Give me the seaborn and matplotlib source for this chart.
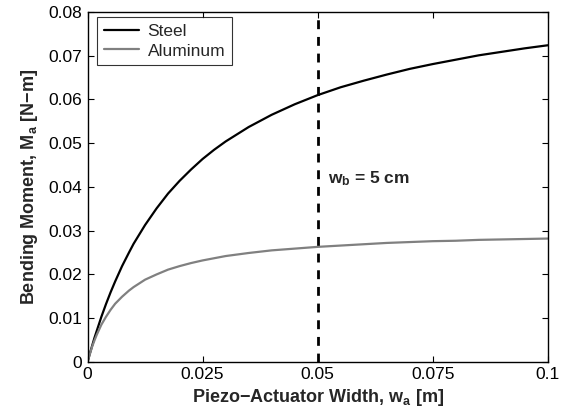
import matplotlib
matplotlib.use("Agg")
import matplotlib.pyplot as plt
import seaborn as sns
import pandas as pd

sns.set_style("ticks")
plt.rcParams['font.family'] = ['Liberation Sans', 'DejaVu Sans']
plt.rcParams['mathtext.fontset'] = 'custom'
plt.rcParams['mathtext.rm'] = 'Liberation Sans:bold'
plt.rcParams['mathtext.it'] = 'Liberation Sans:bold'
plt.rcParams['mathtext.bf'] = 'Liberation Sans:bold'

# values
width = [0, 0.0005, 0.001, 0.0015, 0.002, 0.003, 0.004, 0.005, 0.006, 0.0075,
         0.009, 0.01, 0.0125, 0.015, 0.0175, 0.02, 0.0225, 0.025, 0.0275, 0.03,
         0.035, 0.04, 0.045, 0.05, 0.055, 0.06, 0.065, 0.07, 0.075, 0.08,
         0.085, 0.09, 0.095, 0.1]
steel = [0, 0.0019, 0.0037, 0.0055, 0.0071, 0.0103, 0.0132, 0.0159, 0.0184, 0.0219,
         0.0250, 0.0270, 0.0313, 0.0351, 0.0385, 0.0414, 0.0440, 0.0464, 0.0485, 0.0504,
         0.0537, 0.0565, 0.0589, 0.0610, 0.0628, 0.0643, 0.0657, 0.0670, 0.0681, 0.0691,
         0.0701, 0.0709, 0.0717, 0.0724]
aluminum = [0, 0.0018, 0.0035, 0.0049, 0.0062, 0.0085, 0.0103, 0.0119, 0.0133, 0.0149,
            0.0163, 0.0171, 0.0188, 0.0200, 0.0211, 0.0219, 0.0226, 0.0232, 0.0237, 0.0242,
            0.0249, 0.0255, 0.0259, 0.0263, 0.0266, 0.0269, 0.0272, 0.0274, 0.0276, 0.0277,
            0.0279, 0.0280, 0.0281, 0.0282]
wb = 0.05

xticks = [0, 0.025, 0.05, 0.075, 0.1]
xticklabels = ["0", "0.025", "0.05", "0.075", "0.1"]
yticks = [0, 0.01, 0.02, 0.03, 0.04, 0.05, 0.06, 0.07, 0.08]
yticklabels = ["0", "0.01", "0.02", "0.03", "0.04", "0.05", "0.06", "0.07", "0.08"]

df = pd.DataFrame({"w": width * 2,
                   "M": steel + aluminum,
                   "Material": ["Steel"] * len(width) + ["Aluminum"] * len(width)})

fig = plt.figure(figsize=(5.76, 4.15), dpi=100)
ax = fig.add_axes([0.152, 0.128, 0.799, 0.843])

sns.lineplot(data=df, x="w", y="M", hue="Material",
             palette={"Steel": "black", "Aluminum": "#808080"},
             linewidth=1.6, ax=ax)
ax.axvline(wb, color="black", linestyle=(0, (3.2, 2.8)), linewidth=2.0)
ax.text(0.0522, 0.042, r"w$_\mathrm{b}$ = 5 cm", fontsize=12.5,
        fontweight="bold", va="center", ha="left")

ax.set_xlim(0, 0.1)
ax.set_ylim(0, 0.08)
ax.set_xticks(xticks)
ax.set_xticklabels(xticklabels)
ax.set_yticks(yticks)
ax.set_yticklabels(yticklabels)
ax.tick_params(direction="in", top=True, right=True, labelsize=12.5,
               length=4, width=0.8, colors="black", pad=4)
for s in ax.spines.values():
    s.set_linewidth(1.0)
    s.set_color("black")

ax.set_xlabel(r"Piezo−Actuator Width, w$_\mathrm{a}$ [m]", fontsize=13,
              fontweight="bold", labelpad=3)
ax.set_ylabel(r"Bending Moment, M$_\mathrm{a}$ [N−m]", fontsize=13,
              fontweight="bold", labelpad=6)

leg = ax.legend(loc="upper left", bbox_to_anchor=(0.021, 0.986), borderaxespad=0,
                fontsize=12.5, frameon=True, fancybox=False,
                handlelength=2.0, borderpad=0.4, labelspacing=0.25,
                handletextpad=0.5)
leg.get_frame().set_edgecolor("black")
leg.get_frame().set_linewidth(0.8)
leg.set_title(None)

fig.savefig("out.png", dpi=100)
